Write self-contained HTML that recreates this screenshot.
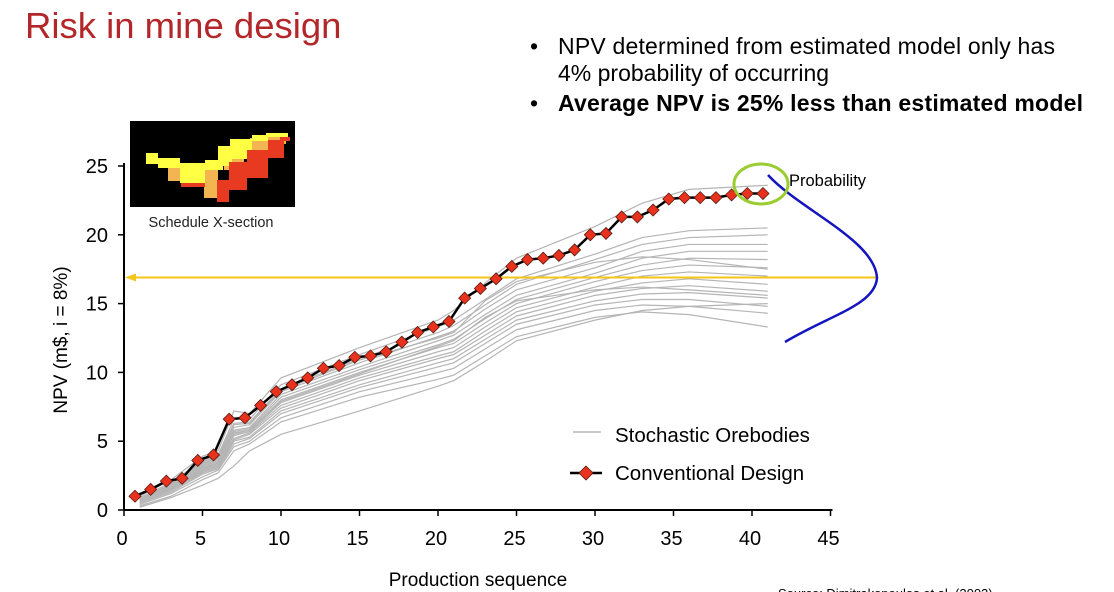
<!DOCTYPE html>
<html><head><meta charset="utf-8"><style>
body{margin:0;background:#fff;width:1114px;height:592px;overflow:hidden;font-family:"Liberation Sans",sans-serif}
svg{position:absolute;left:0;top:0}
</style></head><body>
<svg width="1114" height="592" viewBox="0 0 1114 592">
<text x="25" y="38" font-size="36.5" fill="#b3262a">Risk in mine design</text>
<g font-size="23" fill="#000">
<text x="530" y="54">•</text><text x="558" y="54" textLength="497">NPV determined from estimated model only has</text>
<text x="558" y="81">4% probability of occurring</text>
<text x="530" y="111">•</text><text x="558" y="111" font-weight="bold" textLength="525">Average NPV is 25% less than estimated model</text>
</g>
<g>
<rect x="130" y="121" width="165" height="86" fill="#000"/>
<g fill="#f3b552"><rect x="168" y="163" width="14" height="18"/><rect x="204" y="166" width="14" height="32"/><rect x="224" y="148" width="20" height="22"/><rect x="250" y="138" width="18" height="14"/><rect x="268" y="136" width="18" height="8"/></g>
<g fill="#ffff44"><rect x="146" y="153" width="12" height="11"/><rect x="158" y="158" width="22" height="10"/><rect x="180" y="163" width="25" height="20"/><rect x="205" y="160" width="18" height="10"/><rect x="218" y="146" width="14" height="20"/><rect x="230" y="139" width="22" height="20"/><rect x="252" y="135" width="16" height="6"/><rect x="266" y="133" width="22" height="4"/></g>
<g fill="#e83a20"><rect x="181" y="183" width="24" height="4"/><rect x="217" y="180" width="12" height="22"/><rect x="229" y="162" width="18" height="28"/><rect x="247" y="150" width="21" height="28"/><rect x="268" y="140" width="16" height="18"/><rect x="280" y="137" width="10" height="4"/></g>
</g>
<text x="211" y="227" font-size="14.5" text-anchor="middle" fill="#222">Schedule X-section</text>
<g id="chart"></g>
</svg>
<script>
const xTicks=[0,5,10,15,20,25,30,35,40,45];
const yTicks=[0,5,10,15,20,25];
const convX=[0.7,1.7,2.7,3.7,4.7,5.7,6.7,7.7,8.7,9.7,10.7,11.7,12.7,13.7,14.7,15.7,16.7,17.7,18.7,19.7,20.7,21.7,22.7,23.7,24.7,25.7,26.7,27.7,28.7,29.7,30.7,31.7,32.7,33.7,34.7,35.7,36.7,37.7,38.7,39.7,40.7];
const convNPV=[1.0,1.5,2.1,2.3,3.6,4.0,6.6,6.7,7.6,8.6,9.1,9.6,10.3,10.5,11.1,11.2,11.5,12.2,12.9,13.3,13.7,15.4,16.1,16.8,17.7,18.2,18.3,18.5,18.9,20.0,20.1,21.3,21.3,21.8,22.6,22.7,22.7,22.7,22.9,23.0,23.0];
const stochX=[1,3,5,6,7,8,10,15,20,21,23,25,30,33,36,41];
const stoch1=[1.0,2.2,3.9,4.3,7.2,7.0,9.6,11.8,13.8,14.5,16.5,18.3,20.6,22.3,23.3,23.6];
const stoch2=[0.9,2.0,3.6,4.0,6.6,6.6,9.1,11.3,13.3,13.8,15.3,16.8,18.6,19.8,20.3,20.5];
const stoch3=[0.8,1.9,3.5,3.9,6.3,6.4,8.8,11.0,12.9,13.4,14.9,16.4,18.2,19.3,19.8,20.0];
const stoch4=[0.8,1.8,3.3,3.8,6.0,6.2,8.6,10.7,12.6,13.0,14.6,16.0,17.6,18.8,19.3,19.3];
const stoch5=[0.7,1.8,3.2,3.7,5.8,6.0,8.4,10.4,12.3,12.7,14.2,15.6,17.2,18.3,18.8,18.8];
const stoch6=[0.7,1.7,3.1,3.6,5.7,5.9,8.2,10.2,12.0,12.4,13.9,15.3,16.9,17.8,18.3,18.2];
const stoch7=[0.7,1.6,3.0,3.5,5.6,5.8,8.0,10.0,11.8,12.1,13.6,15.0,16.6,17.4,17.8,17.6];
const stoch8=[0.6,1.6,2.9,3.4,5.4,5.7,7.8,9.8,11.5,11.8,13.3,14.7,16.2,17.0,17.3,17.0];
const stoch9=[0.6,1.5,2.8,3.3,5.2,5.6,7.6,9.6,11.2,11.5,13.0,14.4,15.9,16.5,16.8,16.4];
const stoch10=[0.6,1.5,2.8,3.2,5.1,5.5,7.4,9.4,11.0,11.3,12.7,14.1,15.6,16.1,16.3,15.9];
const stoch11=[0.5,1.4,2.7,3.1,5.0,5.3,7.2,9.1,10.7,11.0,12.4,13.8,15.2,15.7,15.8,15.4];
const stoch12=[0.5,1.3,2.6,3.0,4.8,5.2,7.0,8.9,10.4,10.7,12.1,13.5,14.9,15.3,15.3,14.8];
const stoch13=[0.4,1.2,2.4,2.9,4.6,5.0,6.7,8.6,10.0,10.3,11.7,13.1,14.5,14.9,14.8,14.3];
const stoch14=[0.3,1.0,2.2,2.7,4.3,4.8,6.4,8.2,9.5,9.8,11.2,12.6,14.0,14.4,14.2,13.3];
const stoch15=[0.2,0.9,1.8,2.3,3.2,4.3,5.5,7.2,9.0,9.4,10.8,12.3,13.8,14.5,14.8,15.0];
const stoch16=[0.8,1.9,3.4,3.8,6.2,6.3,8.7,10.9,12.5,12.9,15.2,16.6,18.0,18.4,18.2,17.5];
const stoch17=[0.6,1.6,3.0,3.4,5.5,5.8,7.9,9.9,11.9,12.3,14.0,15.2,16.0,16.2,16.0,15.6];
const stochAll=[stoch1,stoch2,stoch3,stoch4,stoch5,stoch6,stoch7,stoch8,stoch9,stoch10,stoch11,stoch12,stoch13,stoch14,stoch15,stoch16,stoch17];
const avgNPV=16.9;

const NS='http://www.w3.org/2000/svg';
const g=document.getElementById('chart');
const X0=124,XS=15.7,Y0=510,YS=13.76;
const sx=v=>X0+v*XS, sy=v=>Y0-v*YS;
function mk(t,a,p){const e=document.createElementNS(NS,t);for(const k in a)e.setAttribute(k,a[k]);(p||g).appendChild(e);return e;}

stochAll.forEach((s,i)=>{
  const p=mk('polyline',{points:s.map((v,j)=>sx(stochX[j])+','+sy(v)).join(' '),fill:'none',stroke:'#b5b5b5','stroke-width':1.2});
  
  
});
const ax=mk('line',{x1:X0,y1:sy(0),x2:X0,y2:sy(25)-3,stroke:'#000','stroke-width':2});


const ax2=mk('line',{x1:X0,y1:Y0,x2:sx(45)+2,y2:Y0,stroke:'#000','stroke-width':2});


yTicks.forEach(v=>{
  mk('line',{x1:X0-6,y1:sy(v),x2:X0,y2:sy(v),stroke:'#000','stroke-width':1.5});
  const t=mk('text',{x:X0-16,y:sy(v)+7,'font-size':20,'text-anchor':'end'});t.textContent=v;
  
  
});
xTicks.forEach(v=>{
  mk('line',{x1:sx(v),y1:Y0,x2:sx(v),y2:Y0+6,stroke:'#000','stroke-width':1.5});
  const t=mk('text',{x:sx(v)-2,y:545,'font-size':20,'text-anchor':'middle'});t.textContent=v;
  
  
});
const ar=mk('line',{x1:X0+6,y1:sy(avgNPV),x2:877,y2:sy(avgNPV),stroke:'#f5c518','stroke-width':2});


mk('polygon',{points:`${X0+1},${sy(avgNPV)} ${X0+12},${sy(avgNPV)-4} ${X0+12},${sy(avgNPV)+4}`,fill:'#f5c518'});
const cl=mk('polyline',{points:convNPV.map((v,i)=>sx(convX[i])+','+sy(v)).join(' '),fill:'none',stroke:'#000','stroke-width':2.5});


convNPV.forEach((v,i)=>{
  const x=sx(convX[i]),y=sy(v);
  const d=mk('polygon',{points:`${x},${y-6} ${x+6},${y} ${x},${y+6} ${x-6},${y}`,fill:'#e8321e',stroke:'#5a1a10','stroke-width':0.8});
  
  
});
const pc=mk('path',{d:'M768,175 C800,210 875,240 877,278 C875,305 830,315 785,342',fill:'none',stroke:'#1515c0','stroke-width':2.5});


const ce=mk('ellipse',{cx:761,cy:184,rx:27,ry:20,fill:'none',stroke:'#9acd32','stroke-width':3});


const pt=mk('text',{x:789,y:186,'font-size':16.5});pt.textContent='Probability';


const lg=mk('g',{});


mk('line',{x1:573,y1:432,x2:601,y2:432,stroke:'#b5b5b5','stroke-width':1.5},lg);
const l1=mk('text',{x:615,y:442,'font-size':20.5},lg);l1.textContent='Stochastic Orebodies';


mk('line',{x1:570,y1:473,x2:602,y2:473,stroke:'#000','stroke-width':2.5},lg);
mk('polygon',{points:'586,466 593,473 586,480 579,473',fill:'#e8321e',stroke:'#5a1a10','stroke-width':0.8},lg);
const l2=mk('text',{x:615,y:480,'font-size':20.5},lg);l2.textContent='Conventional Design';


const yt=mk('text',{x:0,y:0,'font-size':19,'text-anchor':'middle',transform:'translate(67,340) rotate(-90)'});yt.textContent='NPV  (m$,  i = 8%)';


const xt=mk('text',{x:478,y:586,'font-size':19,'text-anchor':'middle'});xt.textContent='Production sequence';


const src=mk('text',{x:778,y:598,'font-size':13});src.textContent='Source: Dimitrakopoulos et al. (2002)';


</script>
</body></html>
